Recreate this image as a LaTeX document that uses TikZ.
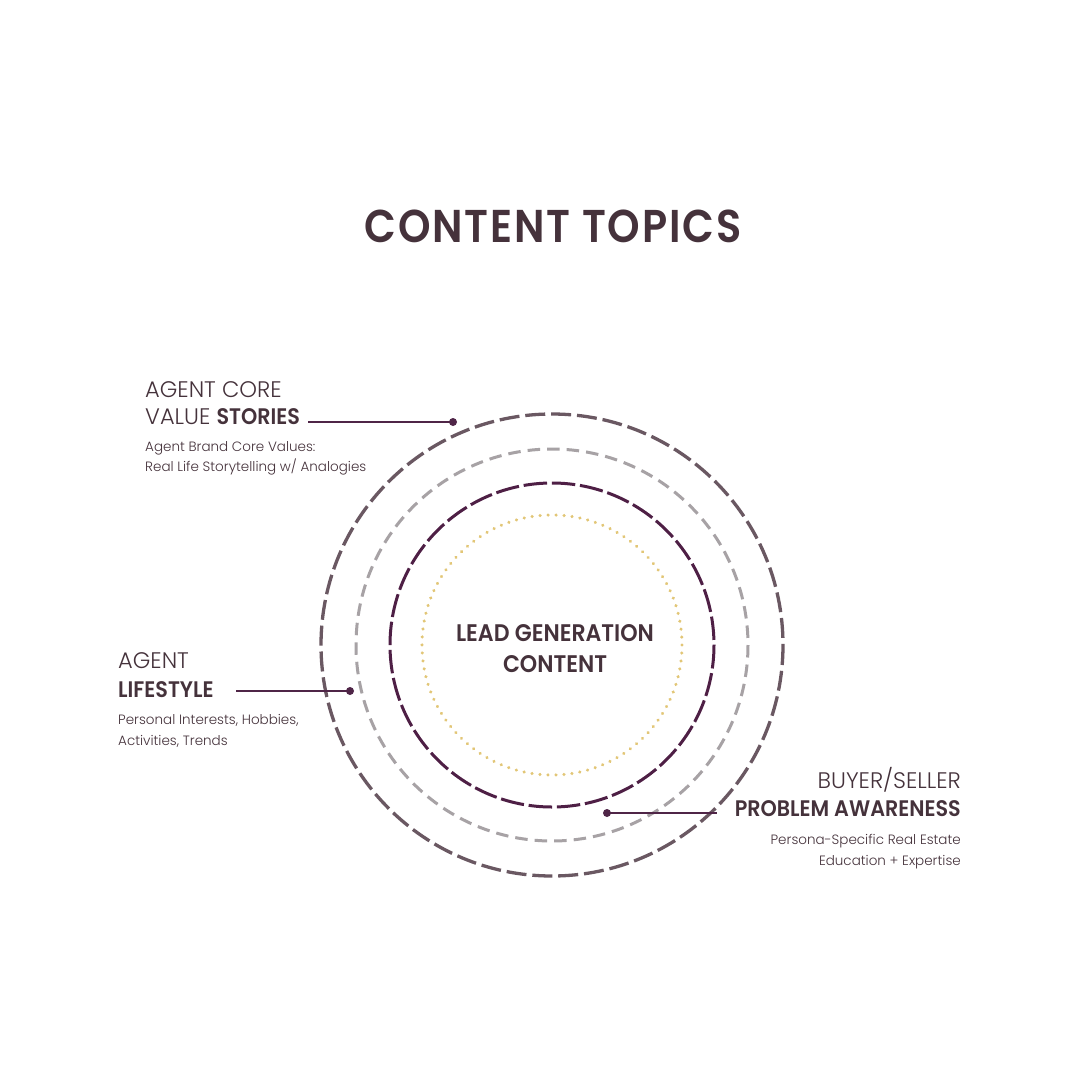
\documentclass[tikz,border=0pt]{standalone}
\usepackage{fontspec}
\setmainfont{Poppins}
\newfontfamily\titlefont[LetterSpace=4,FakeStretch=0.9]{Poppins SemiBold}
\newfontfamily\boldfont[FakeStretch=0.92]{Poppins SemiBold}
\newfontfamily\lightfont{Poppins Light}
\definecolor{ink}{HTML}{45323B}
\definecolor{outerc}{HTML}{6A5862}
\definecolor{grayc}{HTML}{A7A2A5}
\definecolor{plum}{HTML}{4E1F45}
\definecolor{gold}{HTML}{E2C676}
\definecolor{lead}{HTML}{4F2547}
\begin{document}
\begin{tikzpicture}[x=1pt,y=-1pt,
  txt/.style={inner sep=0pt,text=ink},
  head/.style={txt,font=\lightfont\fontsize{22.5}{22.5}\selectfont},
  headb/.style={txt,font=\boldfont\fontsize{22.5}{22.5}\selectfont},
  sub/.style={txt,font=\lightfont\fontsize{13.5}{13.5}\selectfont},
  ring/.style={line width=3.3pt},
  leader/.style={draw=lead,line width=1.8pt},
  dotc/.style={fill=lead,circle,inner sep=0pt,minimum size=8pt}]
\useasboundingbox (0,0) rectangle (1079,1079);
\fill[white] (0,0) rectangle (1079,1079);
\coordinate (c) at (552,645);
% rings
\draw[ring,outerc,dash pattern=on 20pt off 5.9pt] (c) circle[radius=231];
\draw[ring,grayc,line width=3pt,dash pattern=on 12.5pt off 7.05pt] (c) circle[radius=196];
\draw[ring,plum,line width=3pt,dash pattern=on 23.5pt off 4.77pt] (c) circle[radius=162];
\draw[gold,line width=3.4pt,line cap=round,dash pattern=on 0.01pt off 8.0pt] (c) circle[radius=130];
% title
\node[txt,font=\titlefont\fontsize{46}{46}\selectfont,anchor=base] (title) at (553,242) {CONTENT TOPICS};
% center
\node[txt,font=\boldfont\fontsize{24}{24}\selectfont,anchor=base] (lg1) at (555,641) {LEAD GENERATION};
\node[txt,font=\boldfont\fontsize{24}{24}\selectfont,anchor=base] (lg2) at (555,672) {CONTENT};
% agent core
\node[head,anchor=base west] (ac1) at (145,397) {AGENT CORE};
\node[head,anchor=base west] (ac2) at (145,424) {VALUE {\boldfont STORIES}};
\node[sub,anchor=base west] (ac3) at (145,451) {Agent Brand Core Values:};
\node[sub,anchor=base west] (ac4) at (145,471) {Real Life Storytelling w/ Analogies};
% lifestyle
\node[head,anchor=base west] (ls1) at (118,668) {AGENT};
\node[headb,anchor=base west] (ls2) at (118,697) {LIFESTYLE};
\node[sub,anchor=base west] (ls3) at (118,724) {Personal Interests, Hobbies,};
\node[sub,anchor=base west] (ls4) at (118,745) {Activities, Trends};
% buyer seller
\node[head,anchor=base east] (bs1) at (961,788) {BUYER/SELLER};
\node[headb,anchor=base east] (bs2) at (961,816) {PROBLEM AWARENESS};
\node[sub,anchor=base east] (bs3) at (961,844) {Persona-Specific Real Estate};
\node[sub,anchor=base east] (bs4) at (961,865) {Education + Expertise};
% leaders
\coordinate (acA) at (308,422);
\node[dotc] (acD) at (453,422) {};
\draw[leader] (acA) -- (acD.center);
\coordinate (lsA) at (236,691);
\node[dotc] (lsD) at (350,691) {};
\draw[leader] (lsA) -- (lsD.center);
\coordinate (bsA) at (717,813);
\node[dotc] (bsD) at (607,813) {};
\draw[leader] (bsD.center) -- (bsA);
\end{tikzpicture}
\end{document}
